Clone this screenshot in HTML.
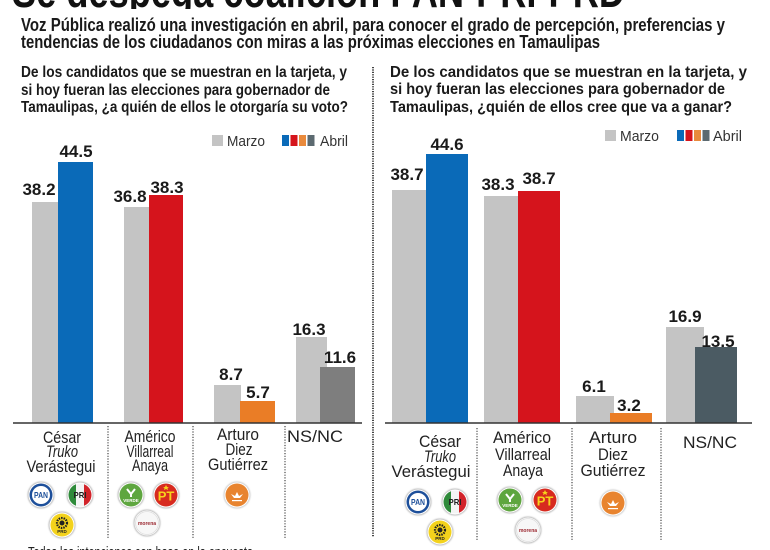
<!DOCTYPE html>
<html>
<head>
<meta charset="utf-8">
<style>
  html,body{margin:0;padding:0;background:#fff;}
  svg{display:block;}
  text{font-family:"Liberation Sans",sans-serif;}
</style>
</head>
<body>
<svg width="770" height="550" viewBox="0 0 770 550" xmlns="http://www.w3.org/2000/svg">
  <defs>
    <clipPath id="titleClip"><rect x="0" y="0" width="770" height="9"/></clipPath>
    <filter id="sh" x="-30%" y="-30%" width="160%" height="160%">
      <feGaussianBlur stdDeviation="0.8"/>
    </filter>
  </defs>
  <rect width="770" height="550" fill="#ffffff"/>

  <!-- Cut-off title -->
  <g clip-path="url(#titleClip)">
    <text x="12" y="7" font-size="46" font-weight="bold" fill="#111" textLength="613" lengthAdjust="spacingAndGlyphs">Se despega coalición PAN-PRI-PRD</text>
  </g>

  <!-- Subtitle -->
  <text x="21" y="31" font-size="18" font-weight="bold" fill="#1a1a1a" textLength="704" lengthAdjust="spacingAndGlyphs">Voz Pública realizó una investigación en abril, para conocer el grado de percepción, preferencias y</text>
  <text x="21" y="48" font-size="18" font-weight="bold" fill="#1a1a1a" textLength="579" lengthAdjust="spacingAndGlyphs">tendencias de los ciudadanos con miras a las próximas elecciones en Tamaulipas</text>

  <!-- Left question -->
  <text x="21" y="77" font-size="16" font-weight="bold" fill="#1a1a1a" textLength="326" lengthAdjust="spacingAndGlyphs">De los candidatos que se muestran en la tarjeta, y</text>
  <text x="21" y="95" font-size="16" font-weight="bold" fill="#1a1a1a" textLength="309" lengthAdjust="spacingAndGlyphs">si hoy fueran las elecciones para gobernador de</text>
  <text x="21" y="112" font-size="16" font-weight="bold" fill="#1a1a1a" textLength="327" lengthAdjust="spacingAndGlyphs">Tamaulipas, ¿a quién de ellos le otorgaría su voto?</text>

  <!-- Right question -->
  <text x="390" y="77" font-size="16" font-weight="bold" fill="#1a1a1a" textLength="357" lengthAdjust="spacingAndGlyphs">De los candidatos que se muestran en la tarjeta, y</text>
  <text x="390" y="94" font-size="16" font-weight="bold" fill="#1a1a1a" textLength="335" lengthAdjust="spacingAndGlyphs">si hoy fueran las elecciones para gobernador de</text>
  <text x="390" y="112" font-size="16" font-weight="bold" fill="#1a1a1a" textLength="342" lengthAdjust="spacingAndGlyphs">Tamaulipas, ¿quién de ellos cree que va a ganar?</text>

  <!-- Center dotted divider -->
  <line x1="373" y1="67" x2="373" y2="537" stroke="#444" stroke-width="2" stroke-dasharray="1.2 1.2"/>

  <!-- Left legend -->
  <rect x="212" y="135" width="11" height="11" fill="#c4c4c4"/>
  <text x="227" y="146" font-size="15" fill="#333" textLength="38" lengthAdjust="spacingAndGlyphs">Marzo</text>
  <rect x="282" y="135" width="7" height="11" fill="#0a6ab8"/>
  <rect x="290.5" y="135" width="7" height="11" fill="#d5141c"/>
  <rect x="299" y="135" width="7" height="11" fill="#e98a3c"/>
  <rect x="307.5" y="135" width="7" height="11" fill="#5c6a70"/>
  <text x="320" y="146" font-size="15" fill="#333" textLength="28" lengthAdjust="spacingAndGlyphs">Abril</text>

  <!-- Right legend -->
  <rect x="605" y="130" width="11" height="11" fill="#c4c4c4"/>
  <text x="620" y="141" font-size="15" fill="#333" textLength="39" lengthAdjust="spacingAndGlyphs">Marzo</text>
  <rect x="677" y="130" width="7" height="11" fill="#0a6ab8"/>
  <rect x="685.5" y="130" width="7" height="11" fill="#d5141c"/>
  <rect x="694" y="130" width="7" height="11" fill="#e98a3c"/>
  <rect x="702.5" y="130" width="7" height="11" fill="#5c6a70"/>
  <text x="713" y="141" font-size="15" fill="#333" textLength="29" lengthAdjust="spacingAndGlyphs">Abril</text>

  <!-- LEFT BARS -->
  <rect x="32" y="202" width="27" height="221" fill="#c4c4c4"/>
  <rect x="58" y="162" width="35" height="261" fill="#0a6ab8"/>
  <rect x="124" y="207" width="26" height="216" fill="#c4c4c4"/>
  <rect x="149" y="195" width="34" height="228" fill="#d5141c"/>
  <rect x="214" y="385" width="27" height="38" fill="#c4c4c4"/>
  <rect x="240" y="401" width="35" height="22" fill="#ea7d26"/>
  <rect x="296" y="337" width="31" height="86" fill="#c4c4c4"/>
  <rect x="320" y="367" width="35" height="56" fill="#7e7e7e"/>
  <line x1="13" y1="423" x2="362" y2="423" stroke="#333" stroke-width="1.5"/>

  <!-- Left values -->
  <g font-size="17" font-weight="bold" fill="#1a1a1a" text-anchor="middle">
    <text x="39" y="195">38.2</text>
    <text x="76" y="157">44.5</text>
    <text x="130" y="202">36.8</text>
    <text x="167" y="193">38.3</text>
    <text x="231" y="380">8.7</text>
    <text x="258" y="398">5.7</text>
    <text x="309" y="335">16.3</text>
    <text x="340" y="363">11.6</text>
  </g>

  <!-- RIGHT BARS -->
  <rect x="392" y="190" width="35" height="233" fill="#c4c4c4"/>
  <rect x="426" y="154" width="42" height="269" fill="#0a6ab8"/>
  <rect x="484" y="196" width="35" height="227" fill="#c4c4c4"/>
  <rect x="518" y="191" width="42" height="232" fill="#d5141c"/>
  <rect x="576" y="396" width="38" height="27" fill="#c4c4c4"/>
  <rect x="610" y="413" width="42" height="10" fill="#ea7d26"/>
  <rect x="666" y="327" width="38" height="96" fill="#c4c4c4"/>
  <rect x="695" y="347" width="42" height="76" fill="#4b5b63"/>
  <line x1="385" y1="423" x2="752" y2="423" stroke="#333" stroke-width="1.5"/>

  <!-- Right values -->
  <g font-size="17" font-weight="bold" fill="#1a1a1a" text-anchor="middle">
    <text x="407" y="180">38.7</text>
    <text x="447" y="150">44.6</text>
    <text x="498" y="190">38.3</text>
    <text x="539" y="184">38.7</text>
    <text x="594" y="392">6.1</text>
    <text x="629" y="411">3.2</text>
    <text x="685" y="322">16.9</text>
    <text x="718" y="347">13.5</text>
  </g>

  <!-- Separators -->
  <g stroke="#555" stroke-width="1.3" stroke-dasharray="1.2 1.5">
    <line x1="108" y1="426" x2="108" y2="538"/>
    <line x1="193" y1="426" x2="193" y2="538"/>
    <line x1="285" y1="426" x2="285" y2="538"/>
    <line x1="477" y1="428" x2="477" y2="540"/>
    <line x1="572" y1="428" x2="572" y2="540"/>
    <line x1="661" y1="428" x2="661" y2="540"/>
  </g>

  <!-- Left category labels -->
  <g font-size="17" fill="#222" text-anchor="middle">
    <text x="62" y="443" textLength="38" lengthAdjust="spacingAndGlyphs">César</text>
    <text x="62" y="457" font-style="italic" textLength="32" lengthAdjust="spacingAndGlyphs">Truko</text>
    <text x="61" y="472" textLength="69" lengthAdjust="spacingAndGlyphs">Verástegui</text>
    <text x="150" y="442" textLength="51" lengthAdjust="spacingAndGlyphs">Américo</text>
    <text x="150" y="457" textLength="47" lengthAdjust="spacingAndGlyphs">Villarreal</text>
    <text x="150" y="471" textLength="36" lengthAdjust="spacingAndGlyphs">Anaya</text>
    <text x="238" y="440" textLength="42" lengthAdjust="spacingAndGlyphs">Arturo</text>
    <text x="239" y="455" textLength="27" lengthAdjust="spacingAndGlyphs">Diez</text>
    <text x="238" y="470" textLength="60" lengthAdjust="spacingAndGlyphs">Gutiérrez</text>
    <text x="315" y="442" textLength="56" lengthAdjust="spacingAndGlyphs">NS/NC</text>
  </g>

  <!-- Right category labels -->
  <g font-size="17" fill="#222" text-anchor="middle">
    <text x="440" y="447" textLength="42" lengthAdjust="spacingAndGlyphs">César</text>
    <text x="440" y="462" font-style="italic" textLength="32" lengthAdjust="spacingAndGlyphs">Truko</text>
    <text x="431" y="477" textLength="79" lengthAdjust="spacingAndGlyphs">Verástegui</text>
    <text x="522" y="443" textLength="58" lengthAdjust="spacingAndGlyphs">Américo</text>
    <text x="523" y="460" textLength="56" lengthAdjust="spacingAndGlyphs">Villarreal</text>
    <text x="523" y="476" textLength="40" lengthAdjust="spacingAndGlyphs">Anaya</text>
    <text x="613" y="443" textLength="48" lengthAdjust="spacingAndGlyphs">Arturo</text>
    <text x="613" y="460" textLength="30" lengthAdjust="spacingAndGlyphs">Diez</text>
    <text x="613" y="476" textLength="65" lengthAdjust="spacingAndGlyphs">Gutiérrez</text>
    <text x="710" y="448" textLength="54" lengthAdjust="spacingAndGlyphs">NS/NC</text>
  </g>

  <!-- Logo symbols -->
  <defs>
    <g id="pan">
      <circle r="13.5" fill="#bbb" filter="url(#sh)"/>
      <circle r="12.5" fill="#fff"/>
      <circle r="11.5" fill="#1d4f9a"/>
      <circle r="9" fill="#fff"/>
      <text y="3" font-size="8.5" font-weight="bold" fill="#1d4f9a" text-anchor="middle" textLength="14" lengthAdjust="spacingAndGlyphs">PAN</text>
    </g>
    <clipPath id="c105"><circle r="11.5"/></clipPath>
    <g id="pri">
      <circle r="13.5" fill="#bbb" filter="url(#sh)"/>
      <circle r="12.5" fill="#fff"/>
      <g clip-path="url(#c105)">
        <rect x="-12" y="-12" width="8" height="24" fill="#2f8a3a"/>
        <rect x="-4" y="-12" width="8" height="24" fill="#f4f4f4"/>
        <rect x="4" y="-12" width="8" height="24" fill="#d2232a"/>
      </g>
      <text y="3" font-size="8.5" font-weight="bold" fill="#222" text-anchor="middle" textLength="13" lengthAdjust="spacingAndGlyphs">PRI</text>
    </g>
    <g id="prd">
      <circle r="13.5" fill="#bbb" filter="url(#sh)"/>
      <circle r="12.5" fill="#fff"/>
      <circle r="11.5" fill="#f3d21c"/>
      <circle cy="-2" r="5" fill="none" stroke="#222" stroke-width="2.2" stroke-dasharray="1.5 1"/>
      <circle cy="-2" r="2.5" fill="#222"/>
      <text y="8" font-size="4.5" font-weight="bold" fill="#222" text-anchor="middle">PRD</text>
    </g>
    <g id="verde">
      <circle r="13.5" fill="#bbb" filter="url(#sh)"/>
      <circle r="12.5" fill="#fff"/>
      <circle r="11.5" fill="#5ea63f"/>
      <path d="M-4,-6 L0,-1 L4,-6 M0,-1 L0,2" stroke="#fff" stroke-width="2" fill="none"/>
      <text y="7" font-size="4.5" font-weight="bold" fill="#fff" text-anchor="middle">VERDE</text>
    </g>
    <g id="pt">
      <circle r="13.5" fill="#bbb" filter="url(#sh)"/>
      <circle r="12.5" fill="#fff"/>
      <circle r="11.5" fill="#d72a1f"/>
      <text y="5.5" font-size="13" font-weight="bold" fill="#f6d21c" text-anchor="middle">PT</text>
      <polygon points="0,-10 1,-8 3,-8 1.5,-7 2,-5 0,-6 -2,-5 -1.5,-7 -3,-8 -1,-8" fill="#f6d21c"/>
    </g>
    <g id="morena">
      <circle r="13.5" fill="#bbb" filter="url(#sh)"/>
      <circle r="12.5" fill="#fff"/>
      <circle r="11.5" fill="#f7f7f7" stroke="#ddd" stroke-width="0.8"/>
      <text y="2" font-size="5" font-weight="bold" fill="#9b2830" text-anchor="middle">morena</text>
    </g>
    <g id="mc">
      <circle r="13.5" fill="#ccc" filter="url(#sh)"/>
      <circle r="12.5" fill="#fff"/>
      <circle r="11.5" fill="#e8842f"/>
      <path d="M-6,-1 L-2,1 L0,-3 L2,1 L6,-1 L3,3 L-3,3 Z" fill="#fff"/>
      <rect x="-5" y="5" width="10" height="1.2" fill="#fff"/>
    </g>
  </defs>

  <!-- Left logos -->
  <use href="#pan" x="41" y="495"/>
  <use href="#pri" x="80" y="495"/>
  <use href="#prd" x="62" y="525"/>
  <use href="#verde" x="131" y="495"/>
  <use href="#pt" x="166" y="495"/>
  <use href="#morena" x="147" y="523"/>
  <use href="#mc" x="237" y="495"/>

  <!-- Right logos -->
  <use href="#pan" x="418" y="502"/>
  <use href="#pri" x="455" y="502"/>
  <use href="#prd" x="440" y="532"/>
  <use href="#verde" x="510" y="500"/>
  <use href="#pt" x="545" y="500"/>
  <use href="#morena" x="528" y="530"/>
  <use href="#mc" x="613" y="503"/>

  <!-- Cut-off footnote -->
  <text x="28" y="557" font-size="15" fill="#222" textLength="225" lengthAdjust="spacingAndGlyphs">Todas las intenciones con base en la encuesta</text>
</svg>
</body>
</html>
